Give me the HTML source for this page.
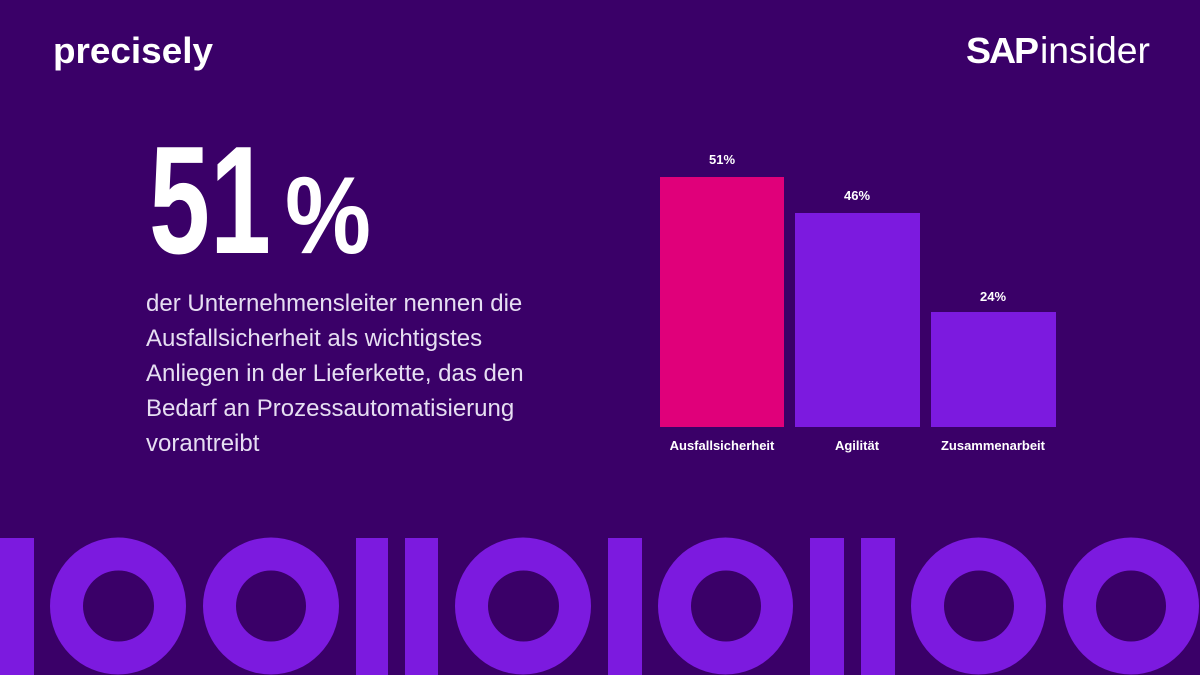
<!DOCTYPE html>
<html><head><meta charset="utf-8"><style>
html,body{margin:0;padding:0;background:#3a0068;}
svg{display:block}
</style></head><body>
<svg width="1200" height="675" viewBox="0 0 1200 675" xmlns="http://www.w3.org/2000/svg">
<rect width="1200" height="675" fill="#3a0068"/>
<g font-family="Liberation Sans, sans-serif" fill="#ffffff">
<text x="53" y="63" font-size="36" font-weight="bold" textLength="160" lengthAdjust="spacingAndGlyphs">precisely</text>
<text x="966" y="63" font-size="36" font-weight="bold" letter-spacing="-2" textLength="71" lengthAdjust="spacingAndGlyphs">SAP</text>
<text x="1040" y="63" font-size="37" textLength="110" lengthAdjust="spacingAndGlyphs">insider</text>
<text transform="translate(149,253) scale(1,1.24)" font-size="124" font-weight="bold" textLength="122" lengthAdjust="spacingAndGlyphs">51</text>
<text transform="translate(285,253) scale(1,1.1)" font-size="100" font-weight="bold" textLength="86" lengthAdjust="spacingAndGlyphs">%</text>
<g font-size="24" fill="#e6def2">
<text x="146" y="311">der Unternehmensleiter nennen die</text>
<text x="146" y="346">Ausfallsicherheit als wichtigstes</text>
<text x="146" y="381">Anliegen in der Lieferkette, das den</text>
<text x="146" y="416">Bedarf an Prozessautomatisierung</text>
<text x="146" y="451">vorantreibt</text>
</g>
<rect x="660" y="177" width="124" height="250" fill="#e0007a"/>
<rect x="795" y="213" width="125" height="214" fill="#7c1adf"/>
<rect x="931" y="312" width="125" height="115" fill="#7c1adf"/>
<g font-size="13" font-weight="bold" text-anchor="middle">
<text x="722" y="164">51%</text>
<text x="857" y="200">46%</text>
<text x="993" y="301">24%</text>
<text x="722" y="450">Ausfallsicherheit</text>
<text x="857" y="450">Agilität</text>
<text x="993" y="450">Zusammenarbeit</text>
</g>
</g>
<g fill="#7c1adf" fill-rule="evenodd">
<rect x="0" y="538" width="34" height="140"/>
<path d="M50,606 a68,68.5 0 1,0 136,0 a68,68.5 0 1,0 -136,0 Z M83,606 a35.5,35.5 0 1,0 71,0 a35.5,35.5 0 1,0 -71,0 Z"/>
<path d="M203,606 a68,68.5 0 1,0 136,0 a68,68.5 0 1,0 -136,0 Z M236,606 a35,35.5 0 1,0 70,0 a35,35.5 0 1,0 -70,0 Z"/>
<rect x="356" y="538" width="32" height="140"/>
<rect x="405" y="538" width="33" height="140"/>
<path d="M455,606 a68,68.5 0 1,0 136,0 a68,68.5 0 1,0 -136,0 Z M488,606 a35.5,35.5 0 1,0 71,0 a35.5,35.5 0 1,0 -71,0 Z"/>
<rect x="608" y="538" width="34" height="140"/>
<path d="M658,606 a67.5,68.5 0 1,0 135,0 a67.5,68.5 0 1,0 -135,0 Z M691,606 a35,35.5 0 1,0 70,0 a35,35.5 0 1,0 -70,0 Z"/>
<rect x="810" y="538" width="34" height="140"/>
<rect x="861" y="538" width="34" height="140"/>
<path d="M911,606 a67.5,68.5 0 1,0 135,0 a67.5,68.5 0 1,0 -135,0 Z M944,606 a35,35.5 0 1,0 70,0 a35,35.5 0 1,0 -70,0 Z"/>
<path d="M1063,606 a68,68.5 0 1,0 136,0 a68,68.5 0 1,0 -136,0 Z M1096,606 a35,35.5 0 1,0 70,0 a35,35.5 0 1,0 -70,0 Z"/>
</g>
</svg>
</body></html>
